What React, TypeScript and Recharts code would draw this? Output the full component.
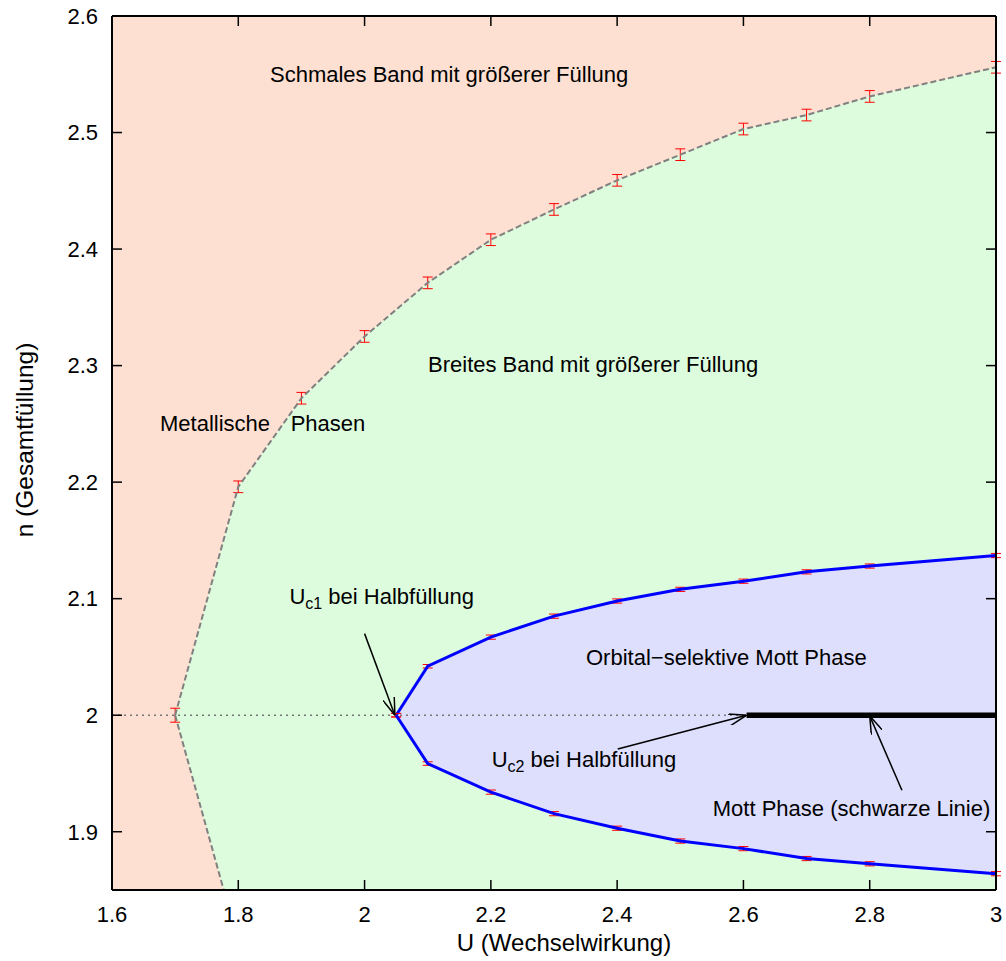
import React from "react";
import {
  ComposedChart,
  Area,
  Line,
  XAxis,
  YAxis,
  CartesianGrid,
  ErrorBar,
  ReferenceLine,
  ReferenceDot,
  Label,
} from "recharts";

const FONT = '"Liberation Sans", Arial, Helvetica, sans-serif';

// Metallic boundary: upper branch (n vs U, with error)
const U_METAL = [1.7, 1.8, 1.9, 2.0, 2.1, 2.2, 2.3, 2.4, 2.5, 2.6, 2.7, 2.8, 3.0];
const N_METAL_UP = [2.0, 2.196, 2.272, 2.325, 2.371, 2.408, 2.434, 2.459, 2.481, 2.503, 2.515, 2.531, 2.556];
const ERR_METAL_UP = [0.006, 0.005, 0.005, 0.005, 0.005, 0.005, 0.005, 0.005, 0.005, 0.005, 0.005, 0.005, 0.005];

// lower branch, leaves the frame right after 1.8
const U_METAL_LOW = [1.7, 1.8];
const N_METAL_LOW = [2.0, 1.805];

// orbital-selective Mott phase boundaries
const U_OSMP = [2.05, 2.1, 2.2, 2.3, 2.4, 2.5, 2.6, 2.7, 2.8, 3.0];
const N_OSMP_UP = [2.0, 2.042, 2.067, 2.085, 2.098, 2.108, 2.115, 2.123, 2.128, 2.137];
const N_OSMP_LOW = [2.0, 1.9585, 1.934, 1.9155, 1.903, 1.892, 1.8855, 1.877, 1.8725, 1.864];
const ERR_OSMP = [0.0015, 0.0015, 0.0018, 0.0018, 0.0018, 0.0018, 0.0018, 0.0018, 0.0018, 0.0018];

// half filling: dotted guide and the Mott line
const U_HALF_DOTTED = [1.6, 2.605];
const U_MOTT = [2.605, 3.0];
const N_HALF = 2.0;

const U_TICKS = [1.6, 1.8, 2, 2.2, 2.4, 2.6, 2.8, 3];
const N_TICKS = [1.9, 2, 2.1, 2.2, 2.3, 2.4, 2.5, 2.6];
const U_DOMAIN = [1.6, 3.0];
const N_DOMAIN = [1.85, 2.6];

// region labels (left edge, baseline)
const NOTE_TEXT = [
  "Schmales Band mit größerer Füllung",
  "Metallische",
  "Phasen",
  "Breites Band mit größerer Füllung",
  "Orbital\u2212selektive Mott Phase",
  "Mott Phase (schwarze Linie)",
];
const NOTE_U = [1.8502, 1.676, 1.883, 2.1005, 2.3507, 2.5514];
const NOTE_N = [2.5436, 2.244, 2.244, 2.2942, 2.0435, 1.9136];

// critical-U labels with subscript
const CRIT_SUB = ["c1", "c2"];
const CRIT_U = [1.881, 2.2013];
const CRIT_N = [2.0953, 1.9556];

// annotation arrows
const ARROW_FROM_U = [2.0, 2.401, 2.851];
const ARROW_FROM_N = [2.07, 1.971, 1.9356];
const ARROW_TO_U = [2.048, 2.605, 2.8];
const ARROW_TO_N = [2.0, 2.0, 1.9994];

const PEACH = "#fde0d1";
const GREEN = "#ddfcdd";
const LAVENDER = "#dedefd";

const metalUp = U_METAL.map((u, i) => ({ u, n: N_METAL_UP[i], err: ERR_METAL_UP[i] }));
const metalLow = U_METAL_LOW.map((u, i) => ({ u, n: N_METAL_LOW[i] }));
const greenBand = U_METAL.map((u, i) => ({
  u,
  range: [i < N_METAL_LOW.length ? N_METAL_LOW[i] : N_DOMAIN[0], N_METAL_UP[i]],
}));
const osmpUp = U_OSMP.map((u, i) => ({ u, n: N_OSMP_UP[i], err: ERR_OSMP[i] }));
const osmpLow = U_OSMP.map((u, i) => ({ u, n: N_OSMP_LOW[i], err: ERR_OSMP[i] }));
const osmpBand = U_OSMP.map((u, i) => ({ u, range: [N_OSMP_LOW[i], N_OSMP_UP[i]] }));
const dotted = U_HALF_DOTTED.map((u) => ({ u, n: N_HALF }));
const mott = U_MOTT.map((u) => ({ u, n: N_HALF }));

const tickStyle = { fontSize: 22, fill: "#000", fontFamily: FONT };

const noteShape = (text: string) => (p: any) => (
  <text x={p.cx} y={p.cy} fontSize={22} fontFamily={FONT} fill="#000">
    {text}
  </text>
);

const critShape = (sub: string) => (p: any) => (
  <text x={p.cx} y={p.cy} fontSize={22} fontFamily={FONT} fill="#000">
    <tspan>U</tspan>
    <tspan dy={5} fontSize={16}>{sub}</tspan>
    <tspan dy={-5}>{" bei Halbfüllung"}</tspan>
  </text>
);

const xTitle = (p: any) => {
  const vb = p.viewBox;
  return (
    <text
      x={vb.x + vb.width / 2 + 10}
      y={vb.y + vb.height - 10}
      textAnchor="middle"
      fontSize={24}
      fontFamily={FONT}
      fill="#000"
    >
      U (Wechselwirkung)
    </text>
  );
};

const yTitle = (p: any) => {
  const vb = p.viewBox;
  const x = vb.x + 33;
  const y = vb.y + vb.height / 2 - 13;
  return (
    <text
      x={x}
      y={y}
      transform={`rotate(-90, ${x}, ${y})`}
      textAnchor="middle"
      fontSize={24.5}
      fontFamily={FONT}
      fill="#000"
    >
      n (Gesamtfüllung)
    </text>
  );
};

export default function App() {
  return (
    <div style={{ position: "absolute", left: 0, top: 0, background: "#fff" }}>
      <ComposedChart
        width={1006}
        height={961}
        margin={{ top: 10, right: 5, bottom: 0, left: 0 }}
      >
        <defs>
          <marker
            id="head"
            viewBox="0 0 18 12"
            refX={18}
            refY={6}
            markerWidth={18}
            markerHeight={12}
            markerUnits="userSpaceOnUse"
            orient="auto"
          >
            <path d="M0,0 L18,6 L0,12" fill="none" stroke="#000" strokeWidth={1.5} />
          </marker>
        </defs>
        <CartesianGrid horizontal={false} vertical={false} fill={PEACH} stroke="none" />
        <XAxis
          dataKey="u"
          type="number"
          domain={U_DOMAIN}
          ticks={U_TICKS}
          allowDataOverflow
          height={71}
          tickSize={-10}
          tickMargin={26}
          tick={tickStyle}
          tickLine={{ stroke: "#000", strokeWidth: 1.5 }}
          axisLine={{ stroke: "#000", strokeWidth: 2 }}
        >
          <Label content={xTitle} />
        </XAxis>
        <XAxis
          xAxisId="top"
          orientation="top"
          dataKey="u"
          type="number"
          domain={U_DOMAIN}
          ticks={U_TICKS}
          allowDataOverflow
          height={6}
          tickSize={-10}
          tickFormatter={() => ""}
          tickLine={{ stroke: "#000", strokeWidth: 1.5 }}
          axisLine={{ stroke: "#000", strokeWidth: 2 }}
        />
        <YAxis
          type="number"
          domain={N_DOMAIN}
          ticks={N_TICKS}
          allowDataOverflow
          width={112}
          tickSize={-10}
          tickMargin={24}
          tick={tickStyle}
          tickLine={{ stroke: "#000", strokeWidth: 1.5 }}
          axisLine={{ stroke: "#000", strokeWidth: 2 }}
        >
          <Label content={yTitle} />
        </YAxis>
        <YAxis
          yAxisId="right"
          orientation="right"
          type="number"
          domain={N_DOMAIN}
          ticks={N_TICKS}
          allowDataOverflow
          width={5}
          tickSize={-10}
          tickFormatter={() => ""}
          tickLine={{ stroke: "#000", strokeWidth: 1.5 }}
          axisLine={{ stroke: "#000", strokeWidth: 2 }}
        />

        <Area
          data={greenBand}
          dataKey="range"
          type="linear"
          fill={GREEN}
          fillOpacity={1}
          stroke="none"
          isAnimationActive={false}
        />
        <Area
          data={osmpBand}
          dataKey="range"
          type="linear"
          fill={LAVENDER}
          fillOpacity={1}
          stroke="none"
          isAnimationActive={false}
        />

        <Line
          data={dotted}
          dataKey="n"
          type="linear"
          stroke="#777"
          strokeWidth={1.5}
          strokeDasharray="2 4"
          dot={false}
          activeDot={false}
          isAnimationActive={false}
        />
        <Line
          data={mott}
          dataKey="n"
          type="linear"
          stroke="#000"
          strokeWidth={5.5}
          dot={false}
          activeDot={false}
          isAnimationActive={false}
        />
        <Line
          data={metalUp}
          dataKey="n"
          type="linear"
          stroke="#808080"
          strokeWidth={2}
          strokeDasharray="6 3"
          dot={false}
          activeDot={false}
          isAnimationActive={false}
        >
          <ErrorBar dataKey="err" direction="y" width={5} stroke="#ff0000" strokeWidth={1} />
        </Line>
        <Line
          data={metalLow}
          dataKey="n"
          type="linear"
          stroke="#808080"
          strokeWidth={2}
          strokeDasharray="6 3"
          dot={false}
          activeDot={false}
          isAnimationActive={false}
        />
        <Line
          data={osmpUp}
          dataKey="n"
          type="linear"
          stroke="#0000ff"
          strokeWidth={3}
          dot={false}
          activeDot={false}
          isAnimationActive={false}
        >
          <ErrorBar dataKey="err" direction="y" width={5} stroke="#ff0000" strokeWidth={1} />
        </Line>
        <Line
          data={osmpLow}
          dataKey="n"
          type="linear"
          stroke="#0000ff"
          strokeWidth={3}
          dot={false}
          activeDot={false}
          isAnimationActive={false}
        >
          <ErrorBar dataKey="err" direction="y" width={5} stroke="#ff0000" strokeWidth={1} />
        </Line>

        {ARROW_FROM_U.map((u, i) => (
          <ReferenceLine
            key={`arrow-${i}`}
            segment={[
              { x: u, y: ARROW_FROM_N[i] },
              { x: ARROW_TO_U[i], y: ARROW_TO_N[i] },
            ]}
            stroke="#000"
            strokeWidth={1.5}
            markerEnd="url(#head)"
            ifOverflow="visible"
          />
        ))}

        {NOTE_TEXT.map((t, i) => (
          <ReferenceDot
            key={`note-${i}`}
            x={NOTE_U[i]}
            y={NOTE_N[i]}
            r={0}
            ifOverflow="visible"
            shape={noteShape(t)}
          />
        ))}
        {CRIT_SUB.map((s, i) => (
          <ReferenceDot
            key={`crit-${i}`}
            x={CRIT_U[i]}
            y={CRIT_N[i]}
            r={0}
            ifOverflow="visible"
            shape={critShape(s)}
          />
        ))}
      </ComposedChart>
    </div>
  );
}
